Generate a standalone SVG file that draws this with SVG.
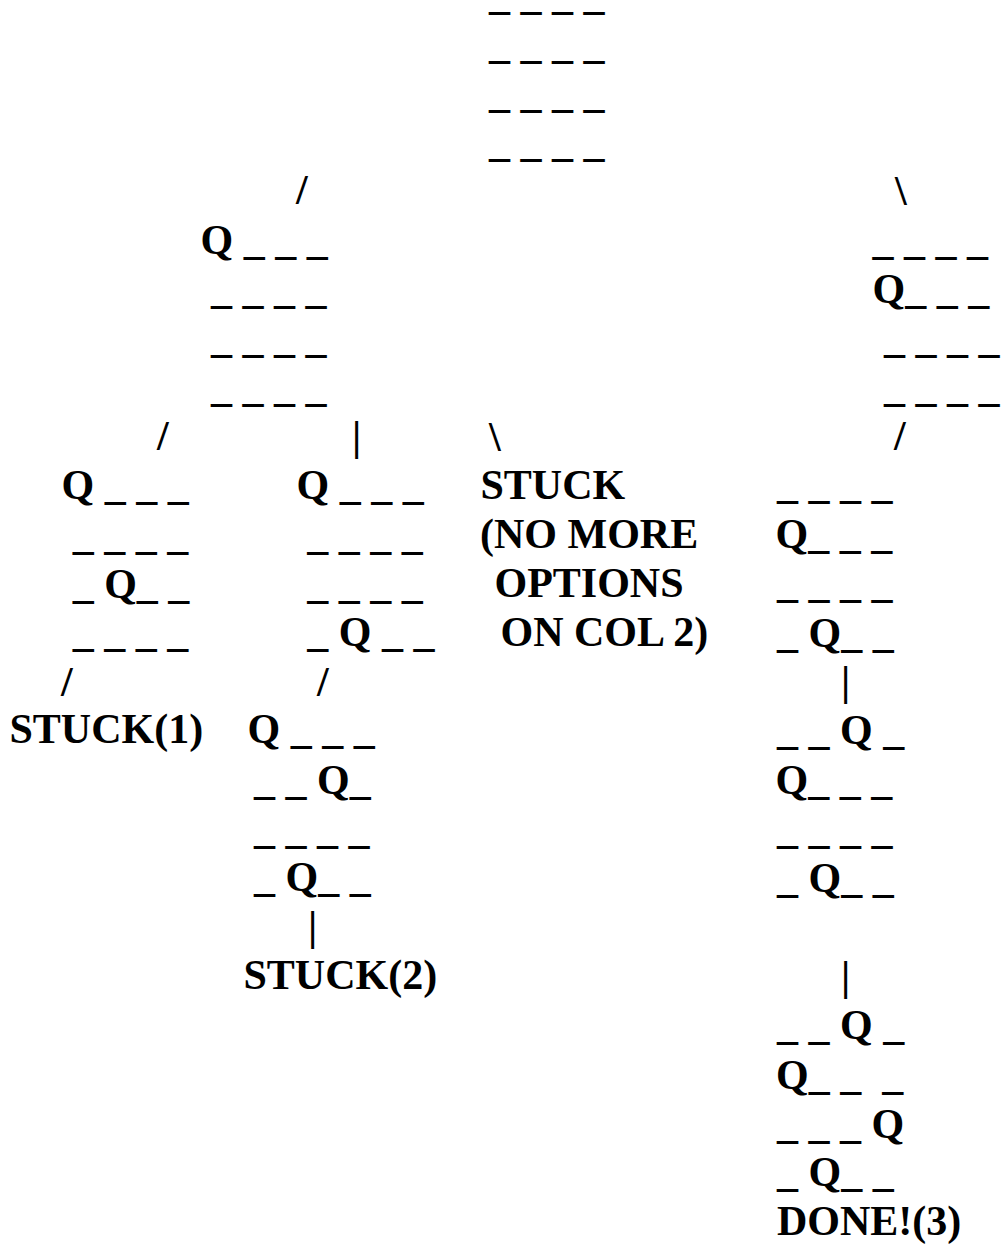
<svg xmlns="http://www.w3.org/2000/svg" width="1002" height="1247" viewBox="0 0 1002 1247" xml:space="preserve">
<style>
text{font-family:"Liberation Serif","Times New Roman",serif;font-weight:bold;font-size:42px;fill:#000;white-space:pre}
</style>
<rect width="1002" height="1247" fill="#fff"/>
<g id="connectors">
<text x="296" y="204">/</text>
<text x="895" y="205">\</text>
<text x="157" y="450">/</text>
<text x="352" y="450">|</text>
<text x="489" y="451">\</text>
<text x="894" y="450">/</text>
<text x="61" y="696">/</text>
<text x="317" y="696">/</text>
<text x="841" y="695">|</text>
<text x="308" y="940">|</text>
<text x="841" y="990">|</text>
</g>
<g id="root">
<text x="489" y="9">_ _ _ _</text>
<text x="489" y="58">_ _ _ _</text>
<text x="489" y="107">_ _ _ _</text>
<text x="489" y="156">_ _ _ _</text>
</g>
<g id="node-l1-left">
<text x="200.5" y="254">Q _ _ _</text>
<text x="211" y="303">_ _ _ _</text>
<text x="211" y="352">_ _ _ _</text>
<text x="211" y="401">_ _ _ _</text>
</g>
<g id="node-l1-right">
<text x="872.5" y="254">_ _ _ _</text>
<text x="872.5" y="303">Q_ _ _</text>
<text x="884" y="352">_ _ _ _</text>
<text x="884" y="401">_ _ _ _</text>
</g>
<g id="node-l2-a">
<text x="61.5" y="499">Q _ _ _</text>
<text x="72.7" y="549">_ _ _ _</text>
<text x="72.7" y="598">_ Q_ _</text>
<text x="72.7" y="646">_ _ _ _</text>
</g>
<g id="node-l2-b">
<text x="296.5" y="499">Q _ _ _</text>
<text x="307.3" y="549">_ _ _ _</text>
<text x="307.3" y="598">_ _ _ _</text>
<text x="307.3" y="646">_ Q _ _</text>
</g>
<g id="node-l2-stuck">
<text x="480.5" y="499">STUCK</text>
<text x="480" y="548">(NO MORE</text>
<text x="494.5" y="597">OPTIONS</text>
<text x="500.5" y="646">ON COL 2)</text>
</g>
<g id="node-l2-c">
<text x="777" y="498">_ _ _ _</text>
<text x="775.5" y="548">Q_ _ _</text>
<text x="777" y="597">_ _ _ _</text>
<text x="777" y="647">_ Q_ _</text>
</g>
<g id="node-stuck1">
<text x="9.5" y="743">STUCK(1)</text>
</g>
<g id="node-l3-b">
<text x="247.5" y="743">Q _ _ _</text>
<text x="254" y="794">_ _ Q_</text>
<text x="254" y="843">_ _ _ _</text>
<text x="254" y="891">_ Q_ _</text>
</g>
<g id="node-stuck2">
<text x="243.5" y="989">STUCK(2)</text>
</g>
<g id="node-l3-c">
<text x="777" y="744">_ _ Q _</text>
<text x="775.5" y="794">Q_ _ _</text>
<text x="777" y="843">_ _ _ _</text>
<text x="777" y="892">_ Q_ _</text>
</g>
<g id="node-l4-c">
<text x="777" y="1039">_ _ Q _</text>
<text x="776" y="1089">Q_ _  _</text>
<text x="777" y="1138">_ _ _ Q</text>
<text x="777" y="1186">_ Q_ _</text>
</g>
<g id="node-done">
<text x="777" y="1235">DONE!(3)</text>
</g>
</svg>
